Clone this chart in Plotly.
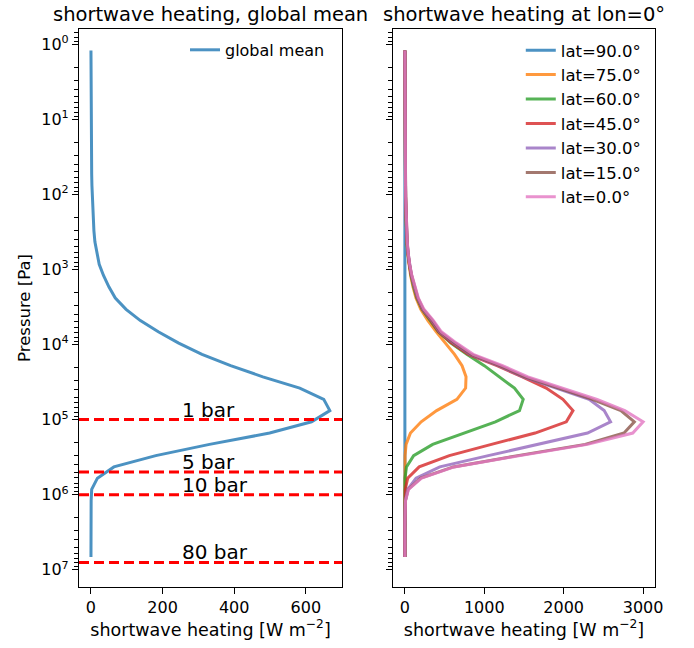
import plotly.graph_objects as go
import numpy as np

# ---------------- data ----------------
pressure_pa = [1.20, 1.70, 2.40, 3.39, 4.79, 6.76, 9.55, 13.5, 19.1, 26.9, 38.0, 53.7,
               75.9, 107, 151, 214, 302, 427, 603, 851, 1.20e3, 1.70e3, 2.40e3, 3.39e3,
               4.79e3, 6.76e3, 9.55e3, 1.35e4, 1.91e4, 2.69e4, 3.80e4, 5.37e4, 7.59e4, 1.07e5,
               1.51e5, 2.14e5, 3.02e5, 4.27e5, 6.03e5, 8.51e5, 1.20e6, 1.70e6, 2.40e6, 3.39e6,
               4.79e6, 6.76e6]

global_mean = [0, 0, 0.1, 0.1, 0.2, 0.3, 0.4, 0.6, 0.8, 1.1, 1.5, 2.0,
               2.7, 3.6, 4.8, 6.3, 8.2, 11, 16, 23, 35, 50, 68, 98,
               138, 188, 245, 310, 390, 480, 583, 650, 667, 616, 499, 331,
               181, 64, 18, 2, 0.5, 0.2, 0.1, 0, 0, 0]

lat_90 = [0] * 46
lat_75 = [0, 0, 0.2, 0.3, 0.4, 0.7, 0.9, 1.3, 1.8, 2.5, 3.5, 4.7,
          6.3, 8, 10.5, 13.5, 17.5, 24, 34, 49, 72, 102, 140, 200,
          290, 395, 515, 625, 720, 770, 765, 655, 400, 205, 70, 15,
          2, 0.3, 0, 0, 0, 0, 0, 0, 0, 0]
lat_60 = [0, 0, 0.2, 0.4, 0.5, 0.8, 1.0, 1.4, 2.0, 2.8, 3.9, 5.2,
          7, 9, 11.5, 15, 19, 26, 37, 53, 77, 110, 150, 215,
          315, 420, 580, 780, 1000, 1190, 1380, 1490, 1443, 1140, 750, 350,
          110, 20, 2, 0.5, 0, 0, 0, 0, 0, 0]
lat_45 = [0, 0, 0.3, 0.4, 0.5, 0.8, 1.1, 1.5, 2.2, 3.0, 4.1, 5.5,
          7.3, 9.3, 12, 15.6, 20, 27, 39, 55, 81, 115, 156, 220,
          330, 425, 590, 800, 1160, 1480, 1780, 1990, 2117, 2033, 1640, 1090,
          560, 180, 35, 5, 1, 0.3, 0, 0, 0, 0]
lat_30 = [0, 0, 0.3, 0.4, 0.5, 0.8, 1.1, 1.6, 2.2, 3.1, 4.2, 5.6,
          7.5, 9.5, 12.3, 16, 21, 28, 40, 57, 83, 118, 160, 226,
          340, 435, 615, 820, 1180, 1490, 1900, 2320, 2510, 2590, 2300, 1650,
          1050, 440, 140, 35, 6, 1.5, 0.3, 0, 0, 0]
lat_15 = [0, 0, 0.3, 0.4, 0.6, 0.9, 1.2, 1.6, 2.3, 3.2, 4.4, 5.8,
          7.8, 10, 12.6, 16.5, 21, 29, 41, 58, 85, 121, 165, 233,
          350, 446, 630, 835, 1195, 1510, 1930, 2360, 2720, 2890, 2760, 2270,
          1420, 610, 200, 42, 7, 2, 0.5, 0, 0, 0]
lat_0 = [0, 0, 0.3, 0.4, 0.6, 0.9, 1.2, 1.7, 2.4, 3.3, 4.5, 6,
         8, 10, 13, 17, 22, 30, 42, 60, 88, 125, 170, 240,
         360, 460, 650, 860, 1230, 1550, 1980, 2420, 2770, 3000, 2870, 2300,
         1450, 620, 210, 45, 8, 2, 0.5, 0, 0, 0]

lat_labels = ["lat=90.0°", "lat=75.0°", "lat=60.0°", "lat=45.0°", "lat=30.0°", "lat=15.0°", "lat=0.0°"]
lat_series = [lat_90, lat_75, lat_60, lat_45, lat_30, lat_15, lat_0]

bar_levels_pa = [1e5, 5e5, 1e6, 8e6]
bar_labels = ["1 bar", "5 bar", "10 bar", "80 bar"]

# ---------------- style ----------------
colors = ['#1f77b4', '#ff7f0e', '#2ca02c', '#d62728', '#9467bd', '#8c564b', '#e377c2']
FONT = "DejaVu Sans"
LW = 3
left_xrange = [-33.4, 701]
right_xrange = [-150, 3150]
yrange = [7.231, -0.206]

fig = go.Figure()

fig.add_trace(go.Scatter(x=global_mean, y=pressure_pa, mode="lines", name="global mean",
                         line=dict(color=colors[0], width=LW), opacity=0.8,
                         xaxis="x", yaxis="y", legend="legend"))

for lvl in bar_levels_pa:
    fig.add_trace(go.Scatter(x=left_xrange, y=[lvl, lvl], mode="lines", showlegend=False,
                             line=dict(color="#ff0000", width=LW, dash="10px,5px"),
                             xaxis="x", yaxis="y", hoverinfo="skip"))

for lbl, ser, col in zip(lat_labels, lat_series, colors):
    fig.add_trace(go.Scatter(x=ser, y=pressure_pa, mode="lines", name=lbl,
                             line=dict(color=col, width=LW), opacity=0.8,
                             xaxis="x2", yaxis="y2", legend="legend2"))

for lvl, txt in zip(bar_levels_pa, bar_labels):
    fig.add_annotation(x=250, y=np.log10(lvl), xref="x", yref="y", text=txt,
                       showarrow=False, xanchor="left", yanchor="bottom", yshift=-4,
                       font=dict(family=FONT, size=20, color="black"))

titles = ["shortwave heating, global mean", "shortwave heating at lon=0°"]
for ax, t in zip(["x", "x2"], titles):
    fig.add_annotation(x=0.5, y=1, xref=f"{ax} domain", yref="paper", text=t,
                       showarrow=False, xanchor="center", yanchor="bottom", yshift=1,
                       font=dict(family=FONT, size=19.5, color="black"))

major = [10.0 ** k for k in range(0, 8)]
major_txt = [f"10<sup>{k}</sup>" for k in range(0, 8)]
minor = [m * 10.0 ** k for k in range(-1, 8) for m in range(2, 10)]

common_x = dict(showline=True, linecolor="black", linewidth=1.2, mirror=True,
                ticks="outside", ticklen=6, tickwidth=1.2, tickcolor="black",
                showgrid=False, zeroline=False,
                tickfont=dict(family=FONT, size=16, color="black"),
                title=dict(text="shortwave heating [W m<sup>−2</sup>]",
                           font=dict(family=FONT, size=17.5, color="black"), standoff=6))
common_y = dict(type="log", range=yrange, showline=True, linecolor="black", linewidth=1.2,
                mirror=True, ticks="outside", ticklen=6, tickwidth=1.2, tickcolor="black",
                tickmode="array", tickvals=major, ticktext=major_txt,
                showgrid=False, zeroline=False,
                minor=dict(tickmode="array", tickvals=minor, ticks="outside", ticklen=3.5,
                           tickwidth=1, tickcolor="black", showgrid=False),
                tickfont=dict(family=FONT, size=16, color="black"))

fig.update_layout(
    width=694, height=648,
    margin=dict(l=79, r=39, t=29, b=59),
    paper_bgcolor="white", plot_bgcolor="white",
    font=dict(family=FONT, color="black"),
    xaxis=dict(domain=[0, 0.4566], range=left_xrange, tickvals=[0, 200, 400, 600],
               anchor="y", **common_x),
    xaxis2=dict(domain=[0.5451, 1], range=right_xrange, tickvals=[0, 1000, 2000, 3000],
                anchor="y2", **common_x),
    yaxis=dict(anchor="x", title=dict(text="Pressure [Pa]",
                                      font=dict(family=FONT, size=16.5, color="black"),
                                      standoff=6), **common_y),
    yaxis2=dict(anchor="x2", showticklabels=False, **common_y),
    legend=dict(x=0.184, y=0.993, xanchor="left", yanchor="top", bgcolor="rgba(0,0,0,0)",
                font=dict(family=FONT, size=16, color="black")),
    legend2=dict(x=0.767, y=0.993, xanchor="left", yanchor="top", bgcolor="rgba(0,0,0,0)",
                 font=dict(family=FONT, size=16.5, color="black")),
    showlegend=True,
)

fig.write_html("out.html")
